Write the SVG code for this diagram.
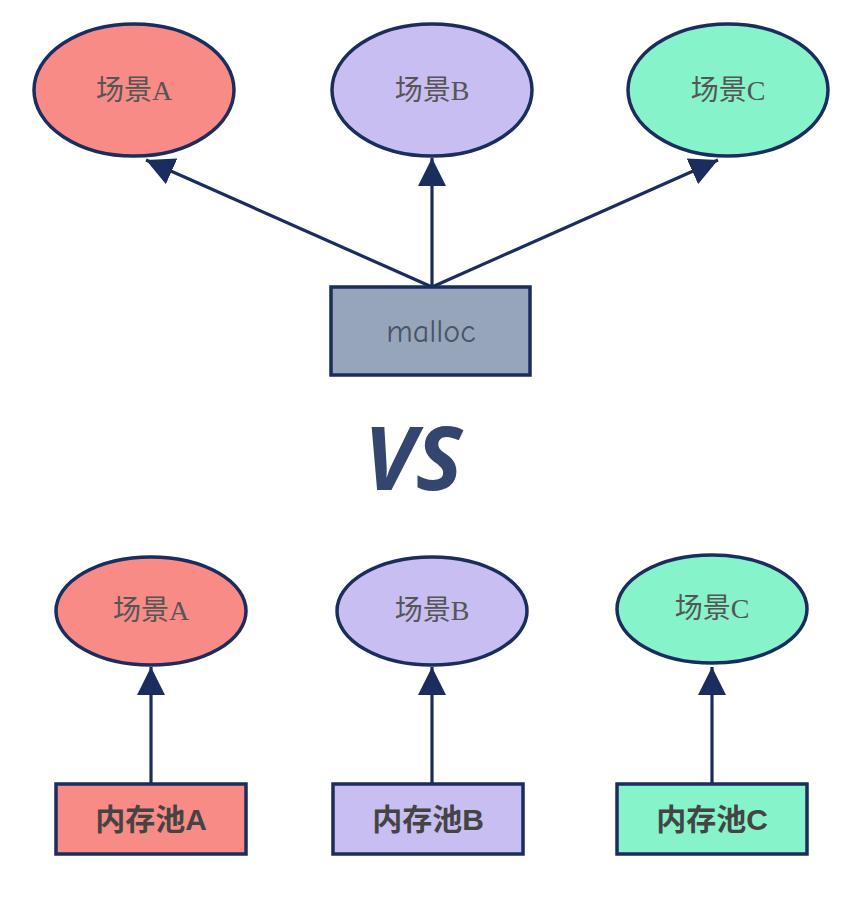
<svg xmlns="http://www.w3.org/2000/svg" width="850" height="897" viewBox="0 0 850 897">
<defs>
<style>
.edge{stroke:#1b2d5e;stroke-width:3.2;fill:none}
.node{stroke:#1b2d5e;stroke-width:3.5}
.a{fill:#f98b86}.b{fill:#c9bef1}.c{fill:#86f3ca}.m{fill:#97a5bb}
.lbl{font-family:"Liberation Serif","Noto Sans CJK SC",serif;font-size:28px;fill:#555;text-anchor:middle}
.box{font-family:"Liberation Sans","Noto Sans CJK SC",sans-serif;font-size:30px;font-weight:bold;fill:#444;text-anchor:middle}
</style>
<marker id="ah" viewBox="0 0 10 10" refX="10" refY="5" markerWidth="28" markerHeight="28" markerUnits="userSpaceOnUse" orient="auto">
<path d="M0,0 L10,5 L0,10 Z" fill="#1b2d5e"/>
</marker>
</defs>
<rect width="850" height="897" fill="#fff"/>
<g id="connectors">
<line class="edge" x1="432" y1="287" x2="146" y2="160" marker-end="url(#ah)"/>
<line class="edge" x1="432" y1="287" x2="432" y2="158" marker-end="url(#ah)"/>
<line class="edge" x1="432" y1="287" x2="718" y2="160" marker-end="url(#ah)"/>
<line class="edge" x1="151" y1="783" x2="151" y2="667" marker-end="url(#ah)"/>
<line class="edge" x1="432" y1="783" x2="432" y2="667" marker-end="url(#ah)"/>
<line class="edge" x1="712" y1="783" x2="712" y2="667" marker-end="url(#ah)"/>
</g>
<g id="sceneA_top"><ellipse class="node a" cx="134" cy="90" rx="100" ry="66"/><text class="lbl" x="134" y="100">场景A</text></g>
<g id="sceneB_top"><ellipse class="node b" cx="432" cy="90" rx="100" ry="66"/><text class="lbl" x="432" y="100">场景B</text></g>
<g id="sceneC_top"><ellipse class="node c" cx="728" cy="90" rx="100" ry="66"/><text class="lbl" x="728" y="100">场景C</text></g>
<g id="malloc"><rect class="node m" x="331" y="287" width="199" height="88"/><text x="431" y="342" text-anchor="middle" font-family="'Comic Neue','DejaVu Sans',sans-serif" font-size="32" fill="#4a5468">malloc</text></g>
<g id="vs"><text x="413" y="490" text-anchor="middle" font-family="'Open Sans','DejaVu Sans',sans-serif" font-size="88" font-weight="bold" font-style="italic" fill="#34466f">VS</text></g>
<g id="sceneA_bot"><ellipse class="node a" cx="151" cy="611" rx="95" ry="54"/><text class="lbl" x="151" y="620">场景A</text></g>
<g id="sceneB_bot"><ellipse class="node b" cx="432" cy="611" rx="95" ry="54"/><text class="lbl" x="432" y="620">场景B</text></g>
<g id="sceneC_bot"><ellipse class="node c" cx="712" cy="609" rx="95" ry="54"/><text class="lbl" x="712" y="618">场景C</text></g>
<g id="poolA"><rect class="node a" x="56" y="784" width="190" height="70"/><text class="box" x="151" y="830">内存池A</text></g>
<g id="poolB"><rect class="node b" x="333" y="784" width="190" height="70"/><text class="box" x="428" y="830">内存池B</text></g>
<g id="poolC"><rect class="node c" x="617" y="784" width="190" height="70"/><text class="box" x="712" y="830">内存池C</text></g>
</svg>
